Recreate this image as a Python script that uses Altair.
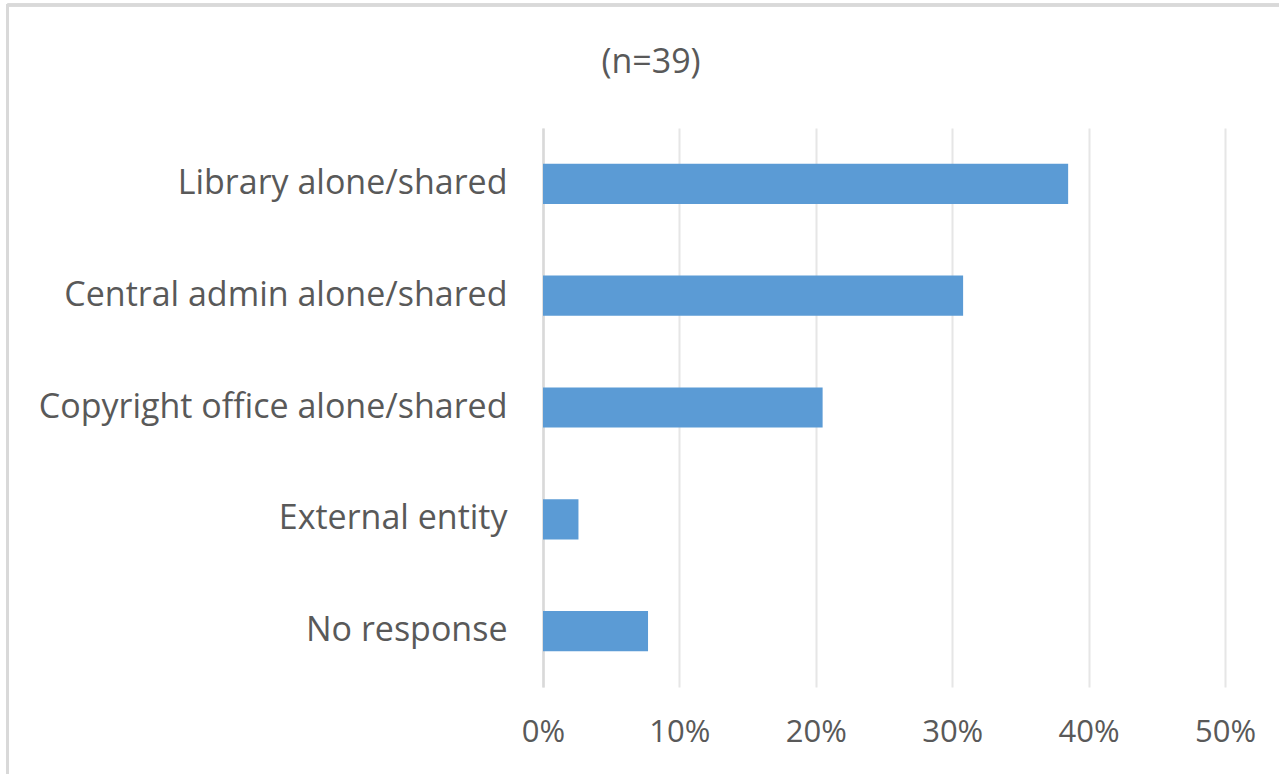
import altair as alt
import pandas as pd

categories = ["Library alone/shared", "Central admin alone/shared",
              "Copyright office alone/shared", "External entity", "No response"]
shares = [0.385, 0.308, 0.205, 0.026, 0.077]
title_text = "(n=39)"

df = pd.DataFrame({"category": categories, "share": shares})

FONT = "Open Sans"
TXT = "#595959"

bars = alt.Chart(df).mark_bar(color="#5b9bd5").encode(
    y=alt.Y("category:N", sort=categories, title=None,
            scale=alt.Scale(paddingInner=0.64, paddingOuter=0.32),
            axis=alt.Axis(labelFont=FONT, labelFontSize=34, labelColor=TXT,
                          labelPadding=36, ticks=False, domain=True,
                          domainColor="#d9d9d9", domainWidth=2.5, grid=False,
                          labelLimit=600)),
    x=alt.X("share:Q", title=None,
            scale=alt.Scale(domain=[0, 0.5], nice=False),
            axis=alt.Axis(format=".0%", values=[0, 0.1, 0.2, 0.3, 0.4, 0.5],
                          labelFont=FONT, labelFontSize=31, labelColor=TXT,
                          labelPadding=30, labelFlush=False, labelOverlap=False,
                          ticks=False, domain=False,
                          grid=True, gridColor="#e6e6e6", gridWidth=2)),
)

title = alt.Chart(pd.DataFrame({"t": [title_text]})).mark_text(
    font=FONT, fontSize=34, color=TXT, align="center", baseline="alphabetic"
).encode(text="t:N", x=alt.value(108), y=alt.value(-55))

border_left = alt.Chart(df).mark_rule(color="#d9d9d9", strokeWidth=3).encode(
    x=alt.value(-535.5), y=alt.value(-124), y2=alt.value(700))
border_top = alt.Chart(df).mark_rule(color="#d9d9d9", strokeWidth=3).encode(
    x=alt.value(-535.5), x2=alt.value(800), y=alt.value(-123))

chart = alt.layer(bars, title, border_left, border_top).properties(
    width=682, height=559,
    padding={"left": 543, "top": 128, "right": 54, "bottom": 87},
    autosize=alt.AutoSizeParams(type="none"),
).configure_view(stroke=None)

chart.save("out.html", embed_options={"renderer": "svg", "actions": False})
